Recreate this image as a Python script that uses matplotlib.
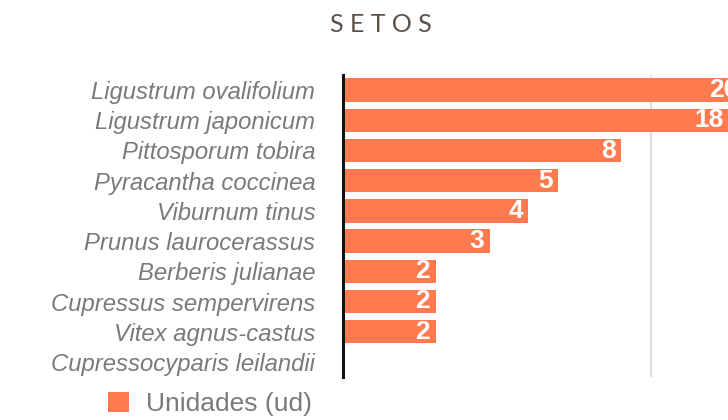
import numpy as np
import matplotlib
matplotlib.use("Agg")
import matplotlib.pyplot as plt

species = ["Ligustrum ovalifolium", "Ligustrum japonicum", "Pittosporum tobira",
           "Pyracantha coccinea", "Viburnum tinus", "Prunus laurocerassus",
           "Berberis julianae", "Cupressus sempervirens", "Vitex agnus-castus",
           "Cupressocyparis leilandii"]
units = [20, 18, 8, 5, 4, 3, 2, 2, 2, 1]
show_label = [True] * 9 + [False]

bar_color = "#FF7B4F"
label_gray = "#7a7a7a"

plt.rcParams['font.family'] = ['Liberation Sans', 'DejaVu Sans']

fig = plt.figure(figsize=(7.28, 4.2), dpi=100)
ax = fig.add_axes([343/728, 43/420, 1 - 343/728, 302/420])

y = np.arange(len(species))
bars = ax.barh(y, units, height=0.78, left=0, color=bar_color, label="Unidades (ud)")
ax.set_xscale("log")
ax.set_xlim(1, 10 ** (385/308))
ax.set_ylim(len(species) - 0.5, -0.5)

ax.set_xticks([10])
ax.xaxis.set_minor_locator(matplotlib.ticker.NullLocator())
ax.set_xticklabels([])
ax.tick_params(axis="x", length=0)
ax.grid(axis="x", color="#dddddd", linewidth=1.5)
ax.set_axisbelow(True)

ax.set_yticks(y)
ax.set_yticklabels(species, fontsize=17.2, style="italic", color=label_gray)
ax.tick_params(axis="y", length=0, pad=20)

for s in ["top", "right", "bottom"]:
    ax.spines[s].set_visible(False)
ax.spines["left"].set_linewidth(2.2)
ax.spines["left"].set_color("#111111")

# value labels sit inside the bar end; the longest one runs off the edge like the original
for yi, v, show in zip(y, units, show_label):
    if show:
        ax.annotate(str(v), xy=(v, yi), xytext=(-4, 0), textcoords="offset points",
                    ha="right", va="center", color="white", fontsize=19,
                    fontweight="bold", annotation_clip=False)

fig.text(381/728, 1 - 24/420, "S E T O S", ha="center", va="center",
         fontsize=18, color="#5b5148", family=["Lato", "DejaVu Sans"])

fig.legend(handles=[bars], labels=["Unidades (ud)"], loc="center left",
           bbox_to_anchor=(95/728, 1 - 404/420), frameon=False, fontsize=19,
           handlelength=0.8, handleheight=0.8, handletextpad=0.62, borderpad=0,
           labelcolor=label_gray)

fig.savefig("out.png", dpi=100)
